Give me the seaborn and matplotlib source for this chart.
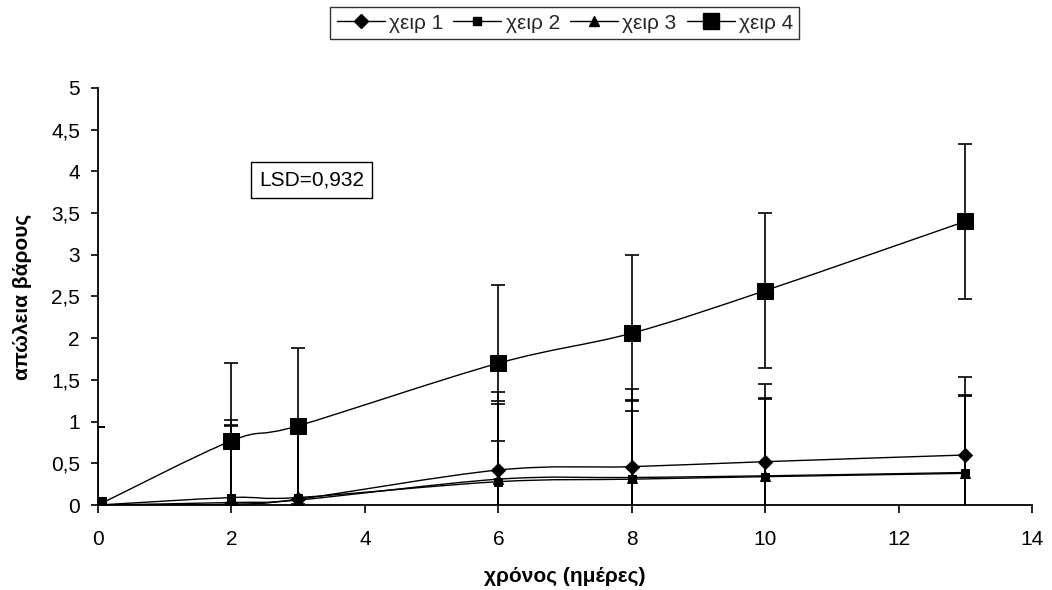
import numpy as np
import pandas as pd
import matplotlib
matplotlib.use("Agg")
import matplotlib.pyplot as plt
from matplotlib.path import Path
from matplotlib.patches import PathPatch
from matplotlib.lines import Line2D
from matplotlib.ticker import FuncFormatter, MultipleLocator
import seaborn as sns

# Weight loss over storage time for four treatments
days = [0, 2, 3, 6, 8, 10, 13]
xeir1 = [0.00, 0.01, 0.07, 0.42, 0.46, 0.52, 0.60]
xeir2 = [0.00, 0.09, 0.09, 0.28, 0.31, 0.34, 0.38]
xeir3 = [0.00, 0.03, 0.06, 0.31, 0.33, 0.35, 0.39]
xeir4 = [0.00, 0.77, 0.95, 1.70, 2.06, 2.57, 3.40]
series_names = ["χειρ 1", "χειρ 2", "χειρ 3", "χειρ 4"]
lsd = 0.932
lsd_label = "LSD=0,932"
x_label = "χρόνος (ημέρες)"
y_label = "απώλεια βάρους"

sns.set_theme(style="white")
plt.rcParams["font.family"] = ["Liberation Sans", "DejaVu Sans"]
FS = 15

frames = []
for name, vals in zip(series_names, [xeir1, xeir2, xeir3, xeir4]):
    frames.append(pd.DataFrame({"days": days, "loss": vals, "series": name}))
df = pd.concat(frames, ignore_index=True)

styles = {
    "χειρ 1": dict(marker="D", ms=7),
    "χειρ 2": dict(marker="s", ms=6),
    "χειρ 3": dict(marker="^", ms=7.5),
    "χειρ 4": dict(marker="s", ms=12),
}

fig = plt.figure(figsize=(10.52, 5.90), dpi=100)
ax = fig.add_axes([0.0932, 0.144, 0.8878, 0.707])


def smooth_path(xs, ys):
    """Cubic Bezier through the points (smoothed line)."""
    pts = np.column_stack([xs, ys]).astype(float)
    n = len(pts)
    verts = [pts[0]]
    codes = [Path.MOVETO]
    for i in range(n - 1):
        p0 = pts[i - 1] if i > 0 else pts[i]
        p1 = pts[i]
        p2 = pts[i + 1]
        p3 = pts[i + 2] if i + 2 < n else pts[i + 1]
        c1 = p1 + (p2 - p0) / 6.0
        c2 = p2 - (p3 - p1) / 6.0
        verts += [c1, c2, p2]
        codes += [Path.CURVE4] * 3
    return Path(verts, codes)


for name in series_names:
    sub = df[df["series"] == name]
    ax.errorbar(sub["days"], sub["loss"], yerr=lsd, fmt="none",
                ecolor="black", elinewidth=1.2, capsize=5, capthick=1.2,
                zorder=2)
    ax.add_patch(PathPatch(smooth_path(sub["days"], sub["loss"]),
                           facecolor="none", edgecolor="black", lw=1.0,
                           zorder=3))

for name in series_names:
    sub = df[df["series"] == name]
    st = styles[name]
    sns.lineplot(data=sub, x="days", y="loss", ax=ax, color="black",
                 linestyle="", marker=st["marker"], markersize=st["ms"],
                 markeredgecolor="black", markerfacecolor="black",
                 legend=False, zorder=4)

ax.set_xlim(0, 14)
ax.set_ylim(0, 5)
ax.xaxis.set_major_locator(MultipleLocator(2))
ax.yaxis.set_major_locator(MultipleLocator(0.5))
comma = FuncFormatter(lambda v, p: ("%g" % v).replace(".", ","))
ax.xaxis.set_major_formatter(comma)
ax.yaxis.set_major_formatter(comma)

for side in ["top", "right"]:
    ax.spines[side].set_visible(False)
for side in ["left", "bottom"]:
    ax.spines[side].set_color("black")
    ax.spines[side].set_linewidth(1.3)

ax.tick_params(axis="x", direction="out", length=6, width=1.2,
               color="black", pad=12, labelsize=FS, labelcolor="black",
               bottom=True)
ax.tick_params(axis="y", direction="out", length=5, width=1.2,
               color="black", pad=8, labelsize=FS, labelcolor="black",
               left=True)

ax.set_xlabel(x_label, fontsize=FS, fontweight="bold", labelpad=13,
              color="black")
ax.set_ylabel(y_label, fontsize=FS, fontweight="bold", labelpad=14,
              color="black")

ax.text(3.2, 3.9, lsd_label, fontsize=FS, ha="center", va="center",
        color="black",
        bbox=dict(boxstyle="square,pad=0.4", facecolor="white",
                  edgecolor="black", lw=1.0))

handles = [Line2D([0], [0], color="black", lw=1.0,
                  marker=styles[n]["marker"], markersize=styles[n]["ms"],
                  markerfacecolor="black", markeredgecolor="black")
           for n in series_names]
leg = fig.legend(handles, series_names, loc="center",
                 bbox_to_anchor=(0.537, 0.961), ncol=4, frameon=True,
                 fontsize=FS, handlelength=2.3, handletextpad=0.2,
                 columnspacing=0.5, borderpad=0.3, fancybox=False)
leg.get_frame().set_edgecolor("black")
leg.get_frame().set_linewidth(1.0)

fig.savefig("out.png", dpi=100, facecolor="white")
